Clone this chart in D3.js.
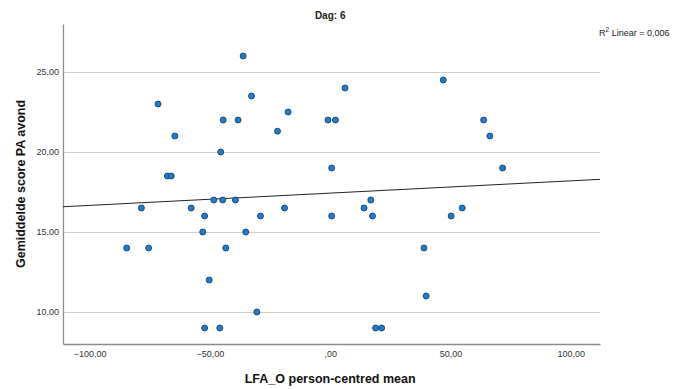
<!DOCTYPE html>
<html>
<head>
<meta charset="utf-8">
<script src="https://cdn.jsdelivr.net/npm/d3@7"></script>
<style>
  body { margin: 0; background: #fff; }
  svg { display: block; font-family: "Liberation Sans", Arial, sans-serif; }
  .grid line { stroke: #cfcfcf; stroke-width: 1; }
  .grid .domain { display: none; }
  .axis .domain { stroke: #8c8c8c; stroke-width: 1.3; }
  .axis text { fill: #333; font-size: 9px; }
</style>
</head>
<body>
<div id="chart"></div>
<script>
// data
var lfaMean = [-36.2, 47.0, 6.2, -32.7, -71.6, -17.5,
    -44.5, -38.3, -0.9, 2.2, 63.8, -21.9, -64.6, 66.4, -45.5,
    0.6, 71.7, -67.7, -66.1,
    -48.4, -44.7, -39.4, 16.9,
    -78.5, -57.8, -19.0, 14.1, 54.9,
    -52.2, -29.0, 0.6, 17.6, 50.3,
    -53.0, -35.1,
    -84.6, -75.5, -43.4, 39.0,
    -50.3, 39.9, -30.5,
    -52.2, -45.9, 18.9, 21.4];
var paAvond = [26, 24.5, 24, 23.5, 23, 22.5,
    22, 22, 22, 22, 22, 21.3, 21, 21, 20,
    19, 19, 18.5, 18.5,
    17, 17, 17, 17,
    16.5, 16.5, 16.5, 16.5, 16.5,
    16, 16, 16, 16, 16,
    15, 15,
    14, 14, 14, 14,
    12, 11, 10,
    9, 9, 9, 9];
var xTicks = [-100, -50, 0, 50, 100];
var yTicks = [10, 15, 20, 25];
// fit line (intercept, slope)
var fitLine = [17.43, 0.00766];
var rSquared = "0,006";

var W = 681, H = 389;
var margin = {top: 24, right: 81, bottom: 45, left: 63};
var width = W - margin.left - margin.right,
    height = H - margin.top - margin.bottom;

var points = lfaMean.map(function(d, i) {
    return {x: d, y: paAvond[i]};
});

var svg = d3.select("#chart").append("svg")
    .attr("width", W)
    .attr("height", H);

var g = svg.append("g")
    .attr("transform", "translate(" + margin.left + "," + margin.top + ")");

var x = d3.scaleLinear().domain([-111.1, 112.2]).range([0, width]);
var y = d3.scaleLinear().domain([8, 28]).range([height, 0]);

// spss style numbers: 25,00 / -50,00 / ,00
function fmt(v) {
    var s = d3.format(".2f")(v).replace(".", ",");
    if (s == "0,00") s = ",00";
    return s;
}

// horizontal grid
g.append("g")
    .attr("class", "grid")
    .call(d3.axisLeft(y).tickValues(yTicks).tickSize(-width).tickFormat(""));

g.append("g")
    .attr("class", "axis")
    .call(d3.axisLeft(y).tickValues(yTicks).tickSize(0).tickPadding(4).tickFormat(fmt))
    .selectAll("text").attr("font-family", null);

g.append("g")
    .attr("class", "axis")
    .attr("transform", "translate(0," + height + ")")
    .call(d3.axisBottom(x).tickValues(xTicks).tickSize(0).tickPadding(7).tickFormat(fmt))
    .selectAll("text").attr("font-family", null);

// fit line
g.append("line")
    .attr("x1", x(x.domain()[0]))
    .attr("y1", y(fitLine[0] + fitLine[1] * x.domain()[0]))
    .attr("x2", x(x.domain()[1]))
    .attr("y2", y(fitLine[0] + fitLine[1] * x.domain()[1]))
    .attr("stroke", "#222")
    .attr("stroke-width", 1);

g.selectAll(".dot")
    .data(points)
    .enter().append("circle")
    .attr("class", "dot")
    .attr("cx", function(d) { return x(d.x); })
    .attr("cy", function(d) { return y(d.y); })
    .attr("r", 3)
    .attr("fill", "#1a7fd4")
    .attr("stroke", "#18324d")
    .attr("stroke-width", 0.8);

// titles
svg.append("text")
    .attr("x", margin.left + x(0))
    .attr("y", 19)
    .attr("text-anchor", "middle")
    .attr("font-size", "10px")
    .attr("font-weight", "bold")
    .attr("fill", "#222")
    .text("Dag: 6");

var r2 = svg.append("text")
    .attr("x", 599)
    .attr("y", 36)
    .attr("font-size", "9px")
    .attr("fill", "#222");
r2.append("tspan").text("R");
r2.append("tspan").attr("dy", -4).attr("font-size", "6.5px").text("2");
r2.append("tspan").attr("dy", 4).text(" Linear = " + rSquared);

svg.append("text")
    .attr("x", margin.left + x(0))
    .attr("y", 383)
    .attr("text-anchor", "middle")
    .attr("font-size", "12.5px")
    .attr("font-weight", "bold")
    .attr("fill", "#111")
    .text("LFA_O person-centred mean");

svg.append("text")
    .attr("transform", "translate(25," + (margin.top + height / 2) + ") rotate(-90)")
    .attr("text-anchor", "middle")
    .attr("font-size", "12.5px")
    .attr("font-weight", "bold")
    .attr("fill", "#111")
    .text("Gemiddelde score PA avond");
</script>
</body>
</html>
